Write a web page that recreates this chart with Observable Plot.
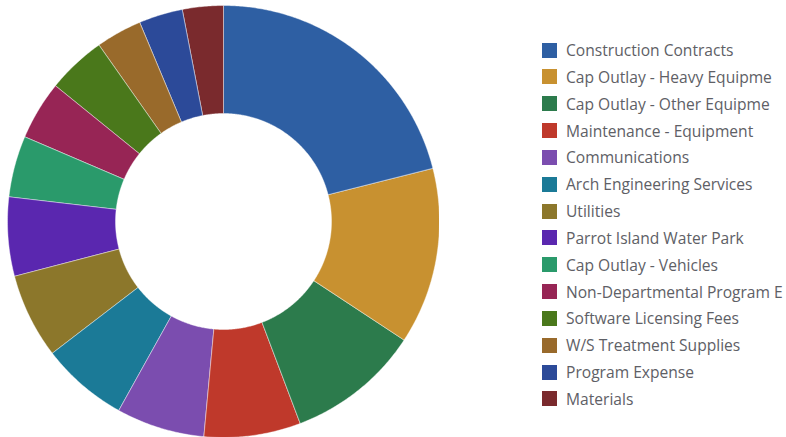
<!DOCTYPE html>
<html><head><meta charset="utf-8">
<script src="https://cdn.jsdelivr.net/npm/d3@7"></script>
<script src="https://cdn.jsdelivr.net/npm/@observablehq/plot@0.6"></script>
<style>
body{margin:0;background:#fff;font-family:"Open Sans",sans-serif;}
#wrap{position:relative;width:786px;height:437px;overflow:hidden}
#chart{position:absolute;left:0;top:0}
#legend{position:absolute;left:541.5px;top:36.6px}
.row{height:26.85px;display:flex;align-items:center;font-size:15.6px;color:#5e6066;white-space:nowrap}
.sw{width:15px;height:15px;margin-right:9.5px;flex:none}
</style></head><body><div id="wrap"><div id="chart"></div><div id="legend"></div></div>
<script>
const categories = ["Construction Contracts","Cap Outlay - Heavy Equipme","Cap Outlay - Other Equipme","Maintenance - Equipment","Communications","Arch Engineering Services","Utilities","Parrot Island Water Park","Cap Outlay - Vehicles","Non-Departmental Program E","Software Licensing Fees","W/S Treatment Supplies","Program Expense","Materials"];
const values = [21.05, 13.2, 9.97, 7.22, 6.6, 6.5, 6.36, 5.9, 4.58, 4.4, 4.4, 3.44, 3.28, 3.03];
const colors = ["#2E5FA3","#C89130","#2C7B4C","#BF392B","#7B4DAF","#1B7A97","#8C772B","#5A27AF","#2A9A6B","#972555","#4A781B","#996A2B","#2C4A99","#7A2A2D"];

const innerRatio = 0.5;
const total = d3.sum(values);
let acc = 0;
const features = categories.map((name, i) => {
  const a0 = acc / total * 2 * Math.PI; acc += values[i]; const a1 = acc / total * 2 * Math.PI;
  const n = Math.max(2, Math.ceil((a1 - a0) / (Math.PI / 360)));
  const outer = [], inner = [];
  for (let k = 0; k <= n; k++) {
    const a = a0 + (a1 - a0) * k / n;
    outer.push([Math.sin(a), -Math.cos(a)]);
    inner.push([innerRatio * Math.sin(a), -innerRatio * Math.cos(a)]);
  }
  const ring = outer.concat(inner.reverse()); ring.push(ring[0]);
  return {type: "Feature", properties: {name}, geometry: {type: "Polygon", coordinates: [ring]}};
});
const collection = {type: "FeatureCollection", features};

const chart = Plot.plot({
  width: 439, height: 437,
  marginLeft: 7, marginTop: 5, marginRight: 0, marginBottom: 0,
  projection: {type: "identity", domain: collection},
  color: {domain: categories, range: colors},
  marks: [
    Plot.geo(features, {fill: d => d.properties.name, stroke: "white", strokeWidth: 0.6, strokeOpacity: 0.7})
  ]
});
document.getElementById("chart").appendChild(chart);

const legend = document.getElementById("legend");
categories.forEach((c, i) => {
  const row = document.createElement("div"); row.className = "row";
  const sw = document.createElement("div"); sw.className = "sw"; sw.style.background = colors[i];
  const t = document.createElement("span"); t.textContent = c;
  row.appendChild(sw); row.appendChild(t); legend.appendChild(row);
});
</script></body></html>
